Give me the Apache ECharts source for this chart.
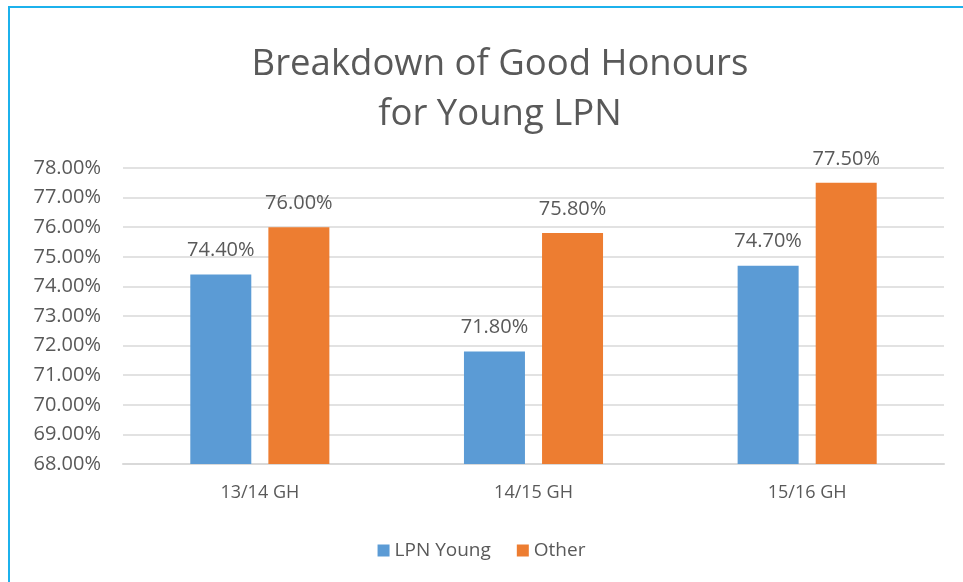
<!DOCTYPE html>
<html>
<head>
<meta charset="utf-8">
<script src="https://cdn.jsdelivr.net/npm/echarts@6/dist/echarts.min.js"></script>
<style>
  html, body { margin: 0; padding: 0; background: #fff; }
  #frame { position: absolute; left: 8px; top: 6px; width: 1000px; height: 600px;
           border-left: 2px solid #1cb1ec; border-top: 2px solid #1cb1ec; pointer-events: none; }
  #main { position: absolute; left: 0; top: 0; width: 963px; height: 582px; }
</style>
</head>
<body>
<div id="main"></div>
<div id="frame"></div>
<script>
// data
const categories = ['13/14 GH', '14/15 GH', '15/16 GH'];
const lpnYoung = [74.4, 71.8, 74.7];
const other = [76.0, 75.8, 77.5];

const chart = echarts.init(document.getElementById('main'));
const pct = v => Number(v).toFixed(2) + '%';
const font = '"Open Sans", "Noto Sans", sans-serif';

chart.setOption({
  animation: false,
  title: {
    text: 'Breakdown of Good Honours\nfor Young LPN',
    left: 495, top: 35, textAlign: 'center',
    textStyle: { fontFamily: font, fontSize: 36.5, fontWeight: 'normal', color: '#595959', lineHeight: 50 }
  },
  legend: {
    bottom: 17, left: 'center',
    itemWidth: 12, itemHeight: 12, itemGap: 26,
    icon: 'rect',
    textStyle: { fontFamily: font, fontSize: 19, color: '#595959' },
    data: ['LPN Young', 'Other']
  },
  grid: { left: 123, right: 19, top: 168, bottom: 118 },
  xAxis: {
    type: 'category',
    data: categories,
    axisLine: { lineStyle: { color: '#d9d9d9', width: 2 } },
    axisTick: { show: false },
    axisLabel: { fontFamily: font, fontSize: 18, color: '#595959', margin: 20 }
  },
  yAxis: {
    type: 'value',
    min: 68, max: 78, interval: 1,
    axisLine: { show: false },
    axisTick: { show: false },
    splitLine: { lineStyle: { color: '#d9d9d9', width: 1.5 } },
    axisLabel: { fontFamily: font, fontSize: 20, color: '#595959', margin: 22, formatter: pct }
  },
  series: [
    {
      name: 'LPN Young', type: 'bar', data: lpnYoung,
      barWidth: 61, barGap: '28%',
      itemStyle: { color: '#5b9bd5' },
      label: { show: true, position: 'top', distance: 14, formatter: p => pct(p.value),
               fontFamily: font, fontSize: 20, color: '#595959' }
    },
    {
      name: 'Other', type: 'bar', data: other,
      barWidth: 61,
      itemStyle: { color: '#ed7d31' },
      label: { show: true, position: 'top', distance: 14, formatter: p => pct(p.value),
               fontFamily: font, fontSize: 20, color: '#595959' }
    }
  ]
});
</script>
</body>
</html>
